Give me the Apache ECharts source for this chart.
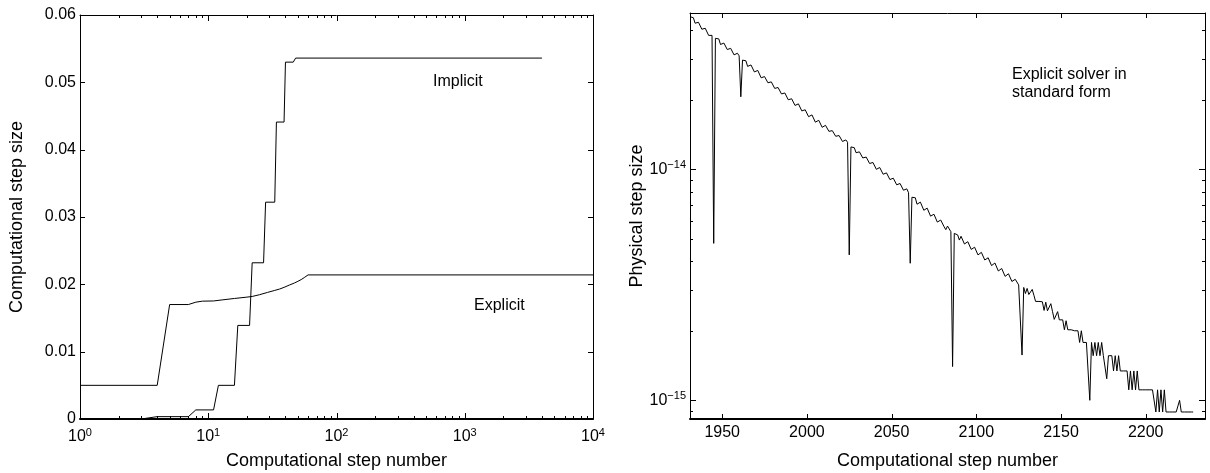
<!DOCTYPE html>
<html><head><meta charset="utf-8">
<script src="https://cdn.jsdelivr.net/npm/echarts@6/dist/echarts.min.js"></script>
<style>html,body{margin:0;padding:0;background:#fff}#c{width:1210px;height:473px}</style>
</head><body><div id="c"></div><script>
// ---------- Left panel: computational step size vs step number ----------
const implicitSteps = [1, 3, 4, 7, 8, 11, 12, 16, 17, 21, 22, 27, 28, 33, 34, 39, 40, 46, 48, 4000];
const implicitSize  = [0, 0, 0.00035, 0.00035, 0.00135, 0.00135, 0.005, 0.005, 0.0139, 0.0139,
                       0.0232, 0.0232, 0.0322, 0.0322, 0.0441, 0.0441, 0.0530, 0.0530, 0.0536, 0.0536];
const explicitSteps = [1, 4, 5, 7, 8, 9, 11, 13, 16, 20, 22, 25, 29, 33, 36, 39, 43, 47, 50, 53, 56, 58, 60, 10000];
const explicitSize  = [0.005, 0.005, 0.0170, 0.0170, 0.01735, 0.0175, 0.01753, 0.0177, 0.0179, 0.0181, 0.0182,
                       0.01845, 0.0188, 0.0191, 0.0193, 0.01955, 0.0199, 0.0202, 0.02045, 0.0207, 0.0210, 0.0212, 0.0214, 0.0214];
const leftYTicks  = [0, 0.01, 0.02, 0.03, 0.04, 0.05, 0.06];
const leftXMajor  = [1, 10, 100, 1000, 10000];
const leftXMinor  = [2,3,4,5,6,7,8,9, 20,30,40,50,60,70,80,90, 200,300,400,500,600,700,800,900, 2000,3000,4000,5000,6000,7000,8000,9000];

// ---------- Right panel: physical step size per step (in units of 1e-15), steps 1931..2228 ----------
const physFirstStep = 1931;
const physUnit = 1e-15;
const physStepSize = [
  45.8, 46.1, 45.3, 42.9, 42.3, 43.3, 42.6, 40.4, 39.8, 40.8, 40.2, 38.0, 37.4, 38.0, 4.78, 36.9,
  37.2, 36.7, 34.7, 34.3, 35.2, 34.8, 33.0, 32.6, 33.4, 33.0, 31.3, 30.9, 31.8, 31.0, 20.6, 29.7,
  29.9, 29.5, 27.9, 27.5, 28.3, 27.9, 26.4, 26.0, 26.8, 26.4,
  24.9, 24.6, 25.2, 24.9, 23.7, 23.3, 23.9, 23.6, 22.4, 22.1,
  22.6, 22.3, 21.2, 20.9, 21.4, 21.1, 20.0, 19.7, 20.2, 20.0,
  18.9, 18.6, 19.2, 18.9, 17.9, 17.6, 18.1, 17.9, 16.9, 16.7,
  17.2, 16.9, 16.0, 15.8,
  16.3, 16.1, 15.2, 15.0, 15.5, 15.2, 14.6, 14.4, 14.7, 14.5,
  13.9, 13.7, 14.0, 13.9, 13.2, 13.0, 13.4, 13.1, 4.26, 12.5,
  12.6, 12.4, 11.8, 11.6, 11.9, 11.8, 11.2, 11.0, 11.3, 11.2,
  10.6, 10.45, 10.7, 10.6, 10.0, 9.91, 10.18, 10.04, 9.52, 9.40,
  9.65, 9.52, 9.03, 8.91, 9.15, 9.03, 8.57, 8.45, 8.68, 8.57,
  8.12, 8.02, 8.23, 7.92, 3.92, 7.57,
  7.65, 7.53, 7.06, 6.95, 7.21, 7.09, 6.65, 6.55, 6.79, 6.69,
  6.27, 6.18, 6.39, 6.30, 5.91, 5.82, 6.03, 5.94, 5.64, 5.48,
  5.68, 5.60, 5.37, 1.40, 5.28, 5.22,
  5.20, 4.94, 5.13, 5.06, 4.75, 4.69, 4.86, 4.80, 4.50, 4.44,
  4.60, 4.54, 4.26, 4.21, 4.37, 4.31, 4.05, 3.99, 4.14, 4.08,
  3.83, 3.78, 3.93, 3.86, 3.63, 3.58, 3.72, 3.67, 3.44, 3.39,
  3.53, 3.47, 3.27, 3.22, 3.34, 3.30, 3.16, 3.12, 1.57, 3.08,
  2.90, 3.05, 2.87, 2.87, 3.02, 2.85, 2.68, 2.68, 2.68, 2.68,
  2.67, 2.45, 2.66, 2.44, 2.44, 2.62, 2.42, 2.24, 2.24, 2.42,
  2.23, 2.23, 2.23, 2.02, 2.21, 2.02, 2.02, 2.02, 2.00, 2.00,
  2.00, 2.00, 1.78, 2.00, 1.78, 1.78, 1.78, 1.78, 1.00, 1.78,
  1.56, 1.78, 1.56, 1.78, 1.56, 1.78, 1.56, 1.56, 1.24, 1.56,
  1.56, 1.56, 1.34, 1.56, 1.34, 1.56, 1.34, 1.34, 1.34, 1.34,
  1.34, 1.11, 1.34, 1.11, 1.34, 1.11, 1.34, 1.11, 1.11, 1.11,
  1.11, 1.11, 1.11, 1.11, 1.11, 1.11, 1.11, 0.89, 1.11, 0.89,
  1.11, 0.89, 1.11, 0.89, 0.89, 0.89, 0.89, 0.89, 0.89, 0.89,
  0.89, 1.00, 0.89, 0.89, 0.89, 0.89, 0.89, 0.89, 0.89, 0.89
];
const rightXTicks = [1950, 2000, 2050, 2100, 2150, 2200];
const rightYMajor = [1e-15, 1e-14];
const rightYMinor = [9e-16, 2e-15, 3e-15, 4e-15, 5e-15, 6e-15, 7e-15, 8e-15, 9e-15, 2e-14, 3e-14, 4e-14];

// ---------- axis ranges ----------
const leftX = [1, 10000], leftY = [0, 0.06];
const rightX = [1931, 2235], rightY = [8.3e-16, 4.75e-14];

// ---------- styling ----------
const FONT = '"Liberation Sans", Arial, Helvetica, sans-serif';
const K = '#000';
const rich = {
  b: {fontSize: 16, fontFamily: FONT, color: K},
  s: {fontSize: 11, fontFamily: FONT, color: K, padding: [0, 0, 9, 0]}
};
function pow10Label(v) {
  const e = Math.round(Math.log10(v));
  return '{b|10}{s|' + (e < 0 ? '\u2212' + (-e) : e) + '}';
}
const nameStyle = {fontSize: 18, fontFamily: FONT, color: K};
function line(w) { return {show: true, onZero: false, lineStyle: {color: K, width: w}}; }
const noTick = {show: false};
const noLabel = {show: false};
const noSplit = {show: false};

// tick marks drawn (inside the frame, on all four sides) through the axes' own scales
// kinds: 0 = x major, 1 = x minor, 2 = y major, 3 = y minor
function tickItems(xMajor, xMinor, yMajor, yMinor, xAt, yAt) {
  const out = [];
  xMajor.forEach(v => out.push([v, yAt, 0]));
  xMinor.forEach(v => out.push([v, yAt, 1]));
  yMajor.forEach(v => out.push([xAt, v, 2]));
  yMinor.forEach(v => out.push([xAt, v, 3]));
  return out;
}
function tickRenderer(lens) {
  return function (params, api) {
    const kind = api.value(2);
    const p = api.coord([api.value(0), api.value(1)]);
    const cs = params.coordSys;
    const len = lens[kind];
    let segs;
    if (kind < 2) {
      const x = Math.round(p[0]) + 0.5;
      segs = [[x, cs.y + cs.height, x, cs.y + cs.height - len], [x, cs.y, x, cs.y + len]];
    } else {
      const y = Math.round(p[1]) + 0.5;
      segs = [[cs.x, y, cs.x + len, y], [cs.x + cs.width, y, cs.x + cs.width - len, y]];
    }
    return {type: 'group', children: segs.map(s => ({
      type: 'line', shape: {x1: s[0], y1: s[1], x2: s[2], y2: s[3]},
      style: {stroke: K, lineWidth: 1}
    }))};
  };
}

const chart = echarts.init(document.getElementById('c'), null, {renderer: 'canvas'});
chart.setOption({
  animation: false,
  backgroundColor: '#fff',
  grid: [
    {left: 80, top: 15, width: 513, height: 404, outerBoundsMode: 'none'},
    {left: 690, top: 13, width: 515, height: 406, outerBoundsMode: 'none'}
  ],
  xAxis: [
    {type: 'log', logBase: 10, gridIndex: 0, position: 'bottom', min: leftX[0], max: leftX[1],
     axisLine: line(2), axisTick: noTick, splitLine: noSplit,
     axisLabel: {show: true, customValues: leftXMajor, formatter: pow10Label, rich: rich, margin: 8},
     name: 'Computational step number', nameLocation: 'middle', nameGap: 33, nameTextStyle: nameStyle},
    {type: 'log', logBase: 10, gridIndex: 0, position: 'top', min: leftX[0], max: leftX[1],
     axisLine: line(1), axisTick: noTick, axisLabel: noLabel, splitLine: noSplit},
    {type: 'value', gridIndex: 1, position: 'bottom', min: rightX[0], max: rightX[1],
     axisLine: line(2), axisTick: noTick, splitLine: noSplit,
     axisLabel: {show: true, customValues: rightXTicks, fontSize: 16, fontFamily: FONT, color: K, margin: 6, formatter: v => String(v)},
     name: 'Computational step number', nameLocation: 'middle', nameGap: 33, nameTextStyle: nameStyle},
    {type: 'value', gridIndex: 1, position: 'top', min: rightX[0], max: rightX[1],
     axisLine: line(1), axisTick: noTick, axisLabel: noLabel, splitLine: noSplit}
  ],
  yAxis: [
    {type: 'value', gridIndex: 0, position: 'left', min: leftY[0], max: leftY[1],
     axisLine: line(1), axisTick: noTick, splitLine: noSplit,
     axisLabel: {show: true, customValues: leftYTicks, fontSize: 16, fontFamily: FONT, color: K, margin: 4,
                 formatter: v => v === 0 ? '0' : v.toFixed(2)},
     name: 'Computational step size', nameLocation: 'middle', nameGap: 54, nameTextStyle: nameStyle},
    {type: 'value', gridIndex: 0, position: 'right', min: leftY[0], max: leftY[1],
     axisLine: line(1), axisTick: noTick, axisLabel: noLabel, splitLine: noSplit},
    {type: 'log', logBase: 10, gridIndex: 1, position: 'left', min: rightY[0], max: rightY[1],
     axisLine: line(1), axisTick: noTick, splitLine: noSplit,
     axisLabel: {show: true, customValues: rightYMajor, formatter: pow10Label, rich: rich, margin: 4},
     name: 'Physical step size', nameLocation: 'middle', nameGap: 44, nameTextStyle: nameStyle},
    {type: 'log', logBase: 10, gridIndex: 1, position: 'right', min: rightY[0], max: rightY[1],
     axisLine: line(1), axisTick: noTick, axisLabel: noLabel, splitLine: noSplit}
  ],
  series: [
    {type: 'line', name: 'Implicit', xAxisIndex: 0, yAxisIndex: 0, showSymbol: false, silent: true,
     data: implicitSteps.map((s, i) => [s, implicitSize[i]]), lineStyle: {color: K, width: 1}},
    {type: 'line', name: 'Explicit', xAxisIndex: 0, yAxisIndex: 0, showSymbol: false, silent: true,
     data: explicitSteps.map((s, i) => [s, explicitSize[i]]), lineStyle: {color: K, width: 1}},
    {type: 'line', name: 'Explicit solver in standard form', xAxisIndex: 2, yAxisIndex: 2, showSymbol: false, silent: true,
     data: physStepSize.map((v, i) => [physFirstStep + i, v * physUnit]), lineStyle: {color: K, width: 1}},
    {type: 'custom', xAxisIndex: 0, yAxisIndex: 0, silent: true, clip: false, z: 5,
     encode: {x: 0, y: 1},
     data: tickItems(leftXMajor, leftXMinor, leftYTicks, [], leftX[0], leftY[0]),
     renderItem: tickRenderer([6, 3, 5, 3])},
    {type: 'custom', xAxisIndex: 2, yAxisIndex: 2, silent: true, clip: false, z: 5,
     encode: {x: 0, y: 1},
     data: tickItems(rightXTicks, [], rightYMajor, rightYMinor, rightX[0], rightY[0]),
     renderItem: tickRenderer([5, 3, 6, 3])}
  ],
  graphic: [
    {type: 'text', left: 433, top: 74, style: {text: 'Implicit', font: '16px ' + FONT, fill: K}},
    {type: 'text', left: 474, top: 298, style: {text: 'Explicit', font: '16px ' + FONT, fill: K}},
    {type: 'text', left: 1012, top: 66, style: {text: 'Explicit solver in\nstandard form', font: '16px ' + FONT, fill: K, lineHeight: 18}}
  ]
});
</script></body></html>
